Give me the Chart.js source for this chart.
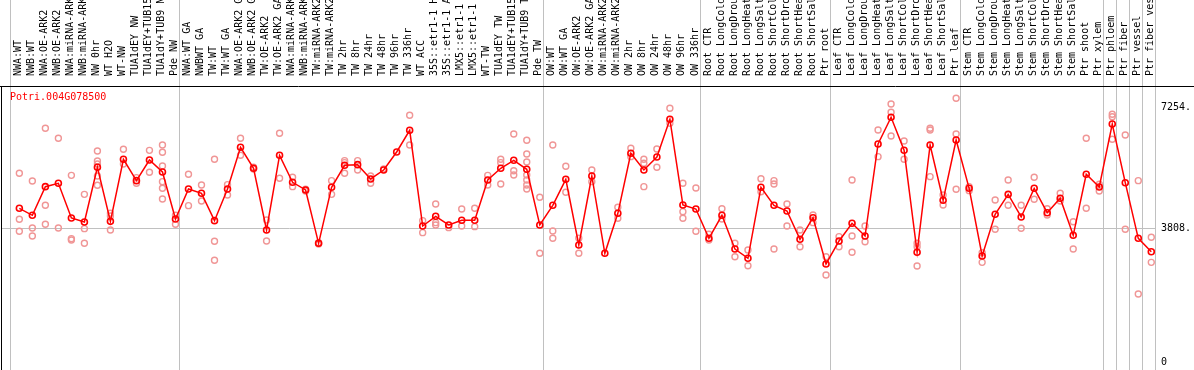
<!DOCTYPE html>
<html>
<head>
<meta charset="utf-8">
<script src="https://cdn.jsdelivr.net/npm/chart.js@4/dist/chart.umd.min.js"></script>
<style>
html, body { margin: 0; padding: 0; background: #fff; }
</style>
</head>
<body>
<canvas id="myChart" width="1194" height="370"></canvas>
<script>
var geneName = 'Potri.004G078500';

var categories = [
  'NWA:WT', 'NWB:WT', 'NWA:OE-ARK2', 'NWB:OE-ARK2', 'NWA:miRNA-ARK2', 'NWB:miRNA-ARK2',
  'NW 0hr', 'WT H2O', 'WT-NW', 'TUA1dEY NW', 'TUA1dEY+TUB15 NW', 'TUA1dY+TUB9 NW', 'Pde NW',
  'NWA:WT GA', 'NWBWT GA', 'TW:WT', 'TW:WT GA', 'NWA:OE-ARK2 GA', 'NWB:OE-ARK2 GA',
  'TW:OE-ARK2', 'TW:OE-ARK2 GA', 'NWA:miRNA-ARK2 GA', 'NWB:miRNA-ARK2 GA', 'TW:miRNA-ARK2',
  'TW:miRNA-ARK2 GA', 'TW 2hr', 'TW 8hr', 'TW 24hr', 'TW 48hr', 'TW 96hr', 'TW 336hr',
  'WT ACC', '35S::etr1-1 H2O', '35S::etr1-1 ACC', 'LMX5::etr1-1 H2O', 'LMX5::etr1-1 ACC',
  'WT-TW', 'TUA1dEY TW', 'TUA1dEY+TUB15 TW', 'TUA1dY+TUB9 TW', 'Pde TW',
  'OW:WT', 'OW:WT GA', 'OW:OE-ARK2', 'OW:OE-ARK2 GA', 'OW:miRNA-ARK2', 'OW:miRNA-ARK2 GA',
  'OW 2hr', 'OW 8hr', 'OW 24hr', 'OW 48hr', 'OW 96hr', 'OW 336hr',
  'Root CTR', 'Root LongCold', 'Root LongDrought', 'Root LongHeat', 'Root LongSalt',
  'Root ShortCold', 'Root ShortDrought', 'Root ShortHeat', 'Root ShortSalt', 'Ptr root',
  'Leaf CTR', 'Leaf LongCold', 'Leaf LongDrought', 'Leaf LongHeat', 'Leaf LongSalt',
  'Leaf ShortCold', 'Leaf ShortDrought', 'Leaf ShortHeat', 'Leaf ShortSalt', 'Ptr leaf',
  'Stem CTR', 'Stem LongCold', 'Stem LongDrought', 'Stem LongHeat', 'Stem LongSalt',
  'Stem ShortCold', 'Stem ShortDrought', 'Stem ShortHeat', 'Stem ShortSalt', 'Ptr shoot',
  'Ptr xylem', 'Ptr phloem', 'Ptr fiber', 'Ptr vessel', 'Ptr fiber vessel'
];

var meanValues = [
  4377, 4178, 4993, 5089, 4101, 3987, 5545, 4006, 5772, 5164, 5753, 5411, 4073,
  4927, 4804, 4025, 4927, 6114, 5516, 3759, 5886, 5117, 4899, 3380, 4975, 5601, 5620,
  5212, 5468, 5981, 6598, 3873, 4149, 3902, 4035, 4035, 5183, 5516, 5744, 5488, 3902,
  4462, 5203, 3332, 5297, 3095, 4234, 5943, 5468, 5838, 6912, 4471, 4357,
  3522, 4178, 3218, 2953, 4975, 4462, 4300, 3494, 4110, 2791,
  3446, 3950, 3588, 6209, 6969, 6029, 3124, 6180, 4605, 6323,
  4946, 3019, 4206, 4775, 4130, 4946, 4252, 4662, 3608, 5345, 4984,
  6778, 5106, 3522, 3141
];

var replicateValues = [
  [5374, 4064, 3722], [5155, 3816, 3588], [6655, 4462, 3921], [6370, 3816],
  [5316, 3512, 3475], [4775, 3797, 3380], [6009, 5725, 5639, 5297, 5032], [4234, 4158, 3759],
  [6057, 5639], [5250, 5089], [6028, 5402], [6180, 5972, 5582, 5136, 4946, 4642], [4178, 3921],
  [5345, 4452], [5041, 4585], [5772, 3437, 2896], [5050, 4756], [6370, 5886], [5545, 5497],
  [4044, 3446], [6513, 5232], [5260, 4993], [4920, 4870], [3400, 3360], [5164, 4775],
  [5734, 5677, 5374], [5734, 5468], [5297, 5089], [5497], [], [7026, 6180], [4025, 3683],
  [4500, 3968, 3902], [3826], [4357, 3873], [4377, 3854], [5316, 5041], [5772, 5677, 5069],
  [6493, 5448, 5326], [6313, 5924, 5696, 5326, 5183, 5041, 4927], [4690, 3095],
  [6180, 3731, 3522], [5573, 4833], [3522, 3095], [5468, 5136], [], [4406, 4092],
  [6086, 5848], [5772, 5659, 4993], [6066, 5545], [7225, 6798], [5089, 4281, 4092], [4956, 3722],
  [3637, 3475], [4366, 4073], [3380, 2999], [3190, 2743], [5220, 4850], [5164, 5069, 3218],
  [4500, 3873], [3759, 3284], [4187, 3968], [2999, 2478],
  [3569, 3284], [5183, 3588, 3124], [3873, 3426], [6607, 5848], [7348, 7111, 6436],
  [6294, 5772], [3380, 3284, 2734], [6655, 6607, 5278], [4756, 4471], [7510, 6493, 4918],
  [4993, 4879], [3113, 2838], [4614, 3779], [5183, 4462], [4462, 3808], [5260, 4634],
  [4366, 4187], [4804, 4585], [3996, 3218], [6370, 4377], [5061, 4870],
  [7054, 6986, 6342], [6465, 3779], [5164, 1937], [3551, 2838]
];

// first category of each group (last entry closes the plot)
var groupStarts = [0, 13, 41, 53, 63, 73, 84, 85, 86, 87, 88];

var yTickValues = [0, 3808, 7254];
var yTickLabels = ['0', '3808.', '7254.'];

// points sit a bit right of the column middle in the original
var colOffset = 0.715;
var monoFont = '"DejaVu Sans Mono", "Liberation Mono", monospace';

function noPadding(scale) {
  scale.paddingLeft = 0;
  scale.paddingRight = 0;
  scale.paddingTop = 0;
  scale.paddingBottom = 0;
}

var framePlugin = {
  id: 'frame',
  beforeDatasetsDraw: function(chart) {
    var ctx = chart.ctx;
    var a = chart.chartArea;
    var xs = chart.scales.x;
    ctx.save();
    ctx.strokeStyle = '#c0c0c0';
    ctx.lineWidth = 1;
    groupStarts.forEach(function(s) {
      var px = Math.round(xs.getPixelForValue(s - colOffset)) + 0.5;
      ctx.beginPath();
      ctx.moveTo(px, 0);
      ctx.lineTo(px, chart.height);
      ctx.stroke();
    });
    ctx.strokeStyle = '#000';
    ctx.beginPath();
    ctx.moveTo(0, a.top + 0.5);
    ctx.lineTo(chart.width, a.top + 0.5);
    ctx.moveTo(a.left + 0.5, a.top);
    ctx.lineTo(a.left + 0.5, chart.height);
    ctx.stroke();
    ctx.fillStyle = '#ff0000';
    ctx.font = '10px ' + monoFont;
    ctx.textBaseline = 'middle';
    ctx.fillText(geneName, a.left + 9, a.top + 11);
    ctx.restore();
  }
};

var ctx = document.getElementById('myChart').getContext('2d');
var chart = new Chart(ctx, {
  type: 'line',
  data: {
    datasets: [{
      label: geneName,
      data: meanValues.map(function(v, i) { return {x: i, y: v}; }),
      borderColor: '#ff0000',
      borderWidth: 1.5,
      tension: 0,
      pointRadius: 3,
      pointBorderWidth: 1.6,
      pointBorderColor: '#ff0000',
      pointBackgroundColor: 'rgba(255,255,255,0)',
      order: 0
    }, {
      label: 'replicates',
      data: replicateValues.flatMap(function(reps, i) {
        return reps.map(function(v) { return {x: i, y: v}; });
      }),
      showLine: false,
      pointRadius: 3,
      pointBorderWidth: 1.4,
      pointBorderColor: 'rgb(240,150,150)',
      pointBackgroundColor: 'rgba(255,255,255,0)',
      order: 1
    }]
  },
  options: {
    responsive: false,
    devicePixelRatio: 1,
    animation: false,
    layout: { autoPadding: false, padding: { left: 1, right: 0, top: 0, bottom: 0 } },
    plugins: {
      legend: { display: false },
      tooltip: { enabled: false }
    },
    scales: {
      x: {
        type: 'linear',
        position: 'top',
        min: -0.695 - colOffset,
        max: 88 - colOffset,
        grid: { display: false },
        border: { display: false },
        afterBuildTicks: function(scale) {
          scale.ticks = categories.map(function(c, i) { return {value: i}; });
        },
        afterFit: function(scale) { scale.height = 86; noPadding(scale); },
        ticks: {
          autoSkip: false,
          minRotation: 90,
          maxRotation: 90,
          padding: 2,
          // rotated labels on a top axis land one line-height left of the tick
          labelOffset: 11,
          color: '#000',
          font: { family: monoFont, size: 10 },
          callback: function(v) { return categories[Math.round(v)]; }
        }
      },
      y: {
        position: 'right',
        min: -228,
        max: 7860,
        afterBuildTicks: function(scale) {
          scale.ticks = yTickValues.map(function(v) { return {value: v}; });
        },
        afterFit: function(scale) { scale.width = 39; noPadding(scale); },
        grid: {
          drawTicks: false,
          color: function(c) {
            return c.tick && c.tick.value === yTickValues[1] ? '#c0c0c0' : 'rgba(0,0,0,0)';
          }
        },
        border: { display: false },
        ticks: {
          padding: 6,
          color: '#000',
          font: { family: monoFont, size: 10 },
          callback: function(v) { return yTickLabels[yTickValues.indexOf(v)]; }
        }
      }
    }
  },
  plugins: [framePlugin]
});
</script>
</body>
</html>
